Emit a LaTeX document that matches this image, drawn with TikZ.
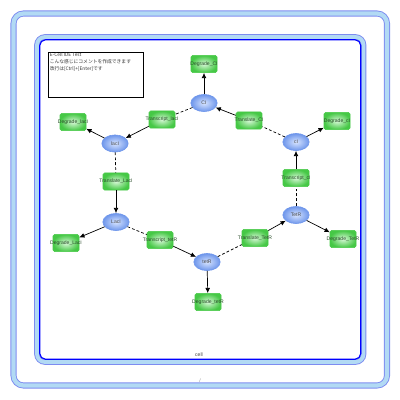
\documentclass[tikz,border=0pt]{standalone}
\usepackage{fontspec}
\setmainfont{Liberation Sans}
\newfontfamily\cjk{Noto Sans CJK JP}
\usetikzlibrary{arrows.meta,shapes.geometric}
\definecolor{gbox}{RGB}{70,200,70}
\definecolor{gin}{RGB}{215,248,215}
\definecolor{bsp}{RGB}{110,150,235}
\definecolor{bin}{RGB}{215,228,255}
\definecolor{frm}{RGB}{125,140,240}
\definecolor{band}{RGB}{178,218,244}
\definecolor{gtxt}{RGB}{40,75,40}

\begin{document}
\begin{tikzpicture}[x=0.25mm,y=-0.25mm,
 r/.style={draw=gbox,rounded corners=0.4mm,minimum width=6.5mm,minimum height=4.3mm,inner sep=0pt,
   inner color=gin,outer color=gbox,label={[lb]center:#1}},
 lb/.style={inner sep=0pt,font=\fontsize{3.6}{4}\selectfont,text=gtxt},
 e/.style={ellipse,draw=bsp,inner color=bin,outer color=bsp,minimum width=6.6mm,minimum height=4.3mm,
   inner sep=0pt,font=\fontsize{3.6}{4}\selectfont,text=black!70},
 a/.style={->,line width=0.5pt},
 dl/.style={line width=0.5pt,dash pattern=on 2pt off 1.5pt},
 >={Latex[length=1.3mm,width=1.2mm]}]
\useasboundingbox (0,0) rectangle (400,400);
% frames
\draw[frm,line width=4.3pt,rounded corners=2.5mm] (13.5,13.5) rectangle (387,385.5);
\draw[band,line width=3pt,rounded corners=2.5mm] (13.5,13.5) rectangle (387,385.5);
\draw[frm,line width=4pt,rounded corners=2mm] (37,37) rectangle (363.5,362);
\draw[band,line width=2.7pt,rounded corners=2mm] (37,37) rectangle (363.5,362);
\draw[blue,line width=0.8pt,rounded corners=1.4mm] (39.8,39.8) rectangle (360.7,359.2);
\node[text=black!75,font=\fontsize{3.6}{4}\selectfont] (cell) at (199,355) {cell};
\node[text=black!45,font=\fontsize{3.6}{4}\selectfont] (path) at (200,381) {/};
% comment
\node[draw,line width=0.5pt,anchor=north west,minimum width=23.6mm,minimum height=11.25mm] (cmt) at (48.3,51.7) {};
\node[anchor=north west,align=left,inner sep=0.3mm,text=black!80,font=\cjk\fontsize{3.4}{4.75}\selectfont] (cmtx) at (cmt.north west)
 {E-Cell IDE Test\\こんな感じにコメントを作成できます\\改行は[Ctrl]+[Enter]です};
% species
\node[e] (ci) at (204,103) {CI};
\node[e] (ci2) at (296,142) {cI};
\node[e] (tetr) at (296,215) {TetR};
\node[e] (tetr2) at (207,262) {tetR};
\node[e] (laci) at (116,222) {LacI};
\node[e] (laci2) at (115,143.5) {lacI};
% reactions
\node[r=Degrade\_CI] (dci) at (204,64) {};
\node[r=Translate\_CI] (tlci) at (249,120.5) {};
\node[r=Degrade\_cI] (dci2) at (337,121) {};
\node[r=Transcript\_cI] (tcci2) at (296,178) {};
\node[r=Degrade\_TetR] (dtetr) at (343,239) {};
\node[r=Translate\_TetR] (tltetr) at (255,238) {};
\node[r=Degrade\_tetR] (dtetr2) at (208,302) {};
\node[r=Transcript\_tetR] (tctetr2) at (160,240) {};
\node[r=Degrade\_LacI] (dlaci) at (66,243) {};
\node[r=Translate\_LacI] (tllaci) at (116,181.5) {};
\node[r=Degrade\_lacI] (dlaci2) at (73,122) {};
\node[r=Transcript\_lacI] (tclaci2) at (162,119.5) {};
% edges
\draw[a] (tclaci2)--(laci2);\draw[a] (laci2)--(dlaci2);\draw[dl] (ci)--(tclaci2);
\draw[a] (tllaci)--(laci);\draw[a] (laci)--(dlaci);\draw[dl] (laci2)--(tllaci);
\draw[a] (tctetr2)--(tetr2);\draw[a] (tetr2)--(dtetr2);\draw[dl] (laci)--(tctetr2);
\draw[a] (tltetr)--(tetr);\draw[a] (tetr)--(dtetr);\draw[dl] (tetr2)--(tltetr);
\draw[a] (tcci2)--(ci2);\draw[a] (ci2)--(dci2);\draw[dl] (tetr)--(tcci2);
\draw[a] (tlci)--(ci);\draw[a] (ci)--(dci);\draw[dl] (ci2)--(tlci);
\end{tikzpicture}
\end{document}
